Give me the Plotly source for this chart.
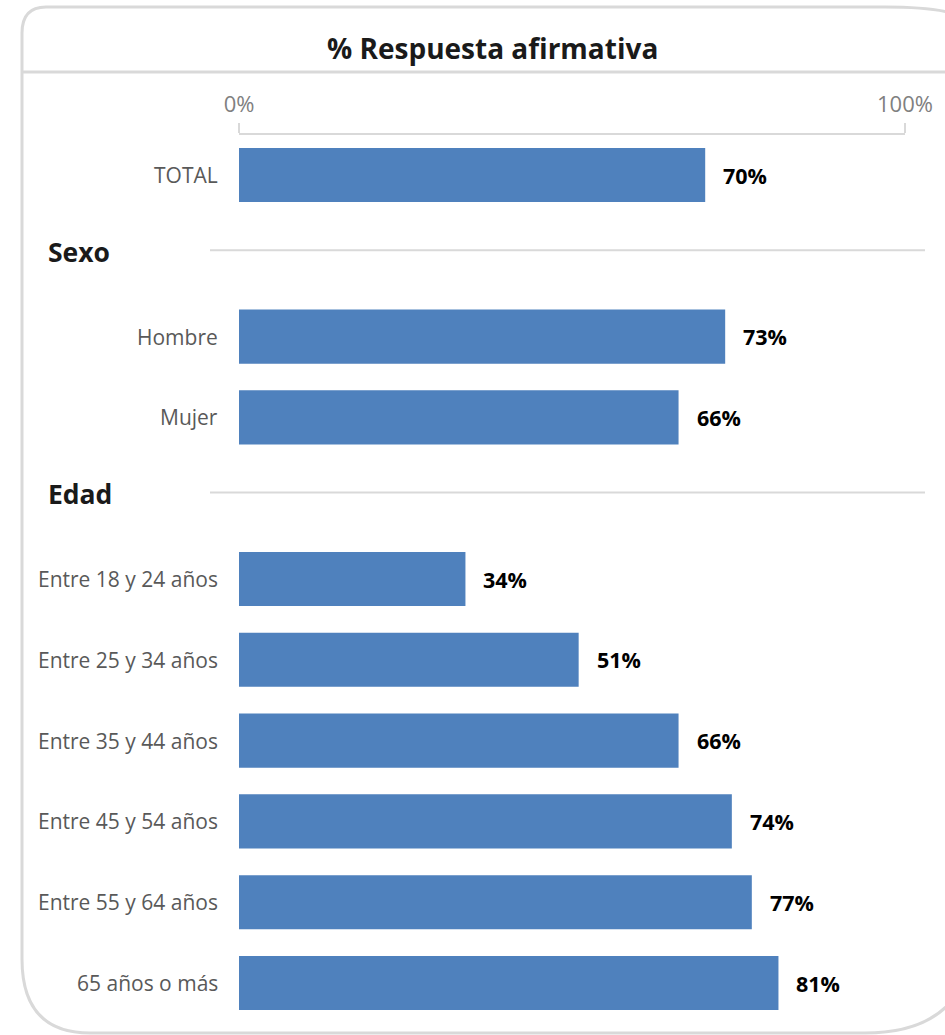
import plotly.graph_objects as go

rows = ["TOTAL", "Sexo", "Hombre", "Mujer", "Edad",
        "Entre 18 y 24 años", "Entre 25 y 34 años", "Entre 35 y 44 años",
        "Entre 45 y 54 años", "Entre 55 y 64 años", "65 años o más"]
headers = ["Sexo", "Edad"]
categories = ["TOTAL", "Hombre", "Mujer",
              "Entre 18 y 24 años", "Entre 25 y 34 años", "Entre 35 y 44 años",
              "Entre 45 y 54 años", "Entre 55 y 64 años", "65 años o más"]
values = [70, 73, 66, 34, 51, 66, 74, 77, 81]
tick_vals = [0, 100]
tick_text = ["0%", "100%"]
title_text = "% Respuesta afirmativa"

W, H = 945, 1035
FONT = "Open Sans"
BAR = "#4f81bd"
GRID = "#d9d9d9"

def px(x):
    return x / W

def py(y):
    return 1 - y / H

fig = go.Figure()
fig.add_trace(go.Bar(
    x=values, y=categories, orientation="h",
    marker=dict(color=BAR, line=dict(width=0)),
    width=0.67, hoverinfo="skip",
))

annotations = []
for c, v in zip(categories, values):
    annotations.append(dict(x=0, y=c, xref="x", yref="y", text=c, showarrow=False,
                            xanchor="right", yanchor="middle", xshift=-19,
                            font=dict(family=FONT, size=21, color="#595959")))
    annotations.append(dict(x=v, y=c, xref="x", yref="y", text=f"<b>{v}%</b>",
                            showarrow=False, xanchor="left", yanchor="middle", xshift=16,
                            font=dict(family=FONT, size=21.5, color="#000000")))

shapes = []
for h in headers:
    idx = rows.index(h)
    annotations.append(dict(x=px(46), y=idx - 0.05, xref="paper", yref="y",
                            text=f"<b>{h}</b>", showarrow=False,
                            xanchor="left", yanchor="middle",
                            font=dict(family=FONT, size=26.5, color="#1a1a1a")))
    shapes.append(dict(type="line", xref="paper", yref="y",
                       x0=px(210), x1=px(925), y0=idx - 0.07, y1=idx - 0.07,
                       line=dict(color=GRID, width=2)))

annotations.append(dict(x=px(492), y=py(48), xref="paper", yref="paper",
                        text=f"<b>{title_text}</b>", showarrow=False,
                        xanchor="center", yanchor="middle",
                        font=dict(family=FONT, size=28, color="#1a1a1a")))

# outer rounded frame (right edge lies beyond the visible area)
L, T, R, B = px(22), py(7), px(975), py(1033)
rtl_x, rtl_y = 24 / W, 26 / H
rbl_x, rbl_y = 68 / W, 74 / H
rtr_x, rtr_y = 90 / W, 25 / H
rbr_x, rbr_y = 110 / W, 110 / H
path = (f"M {L},{T - rtl_y} Q {L},{T} {L + rtl_x},{T} "
        f"L {R - rtr_x},{T} Q {R},{T} {R},{T - rtr_y} "
        f"L {R},{B + rbr_y} Q {R},{B} {R - rbr_x},{B} "
        f"L {L + rbl_x},{B} Q {L},{B} {L},{B + rbl_y} Z")
shapes.append(dict(type="path", xref="paper", yref="paper", path=path,
                   line=dict(color=GRID, width=3), layer="below"))
shapes.append(dict(type="line", xref="paper", yref="paper",
                   x0=px(22), x1=px(960), y0=py(72), y1=py(72),
                   line=dict(color=GRID, width=3)))

fig.update_layout(
    template="none",
    width=W, height=H, autosize=False,
    margin=dict(l=0, r=0, t=0, b=0, pad=0),
    paper_bgcolor="white", plot_bgcolor="white",
    showlegend=False,
    annotations=annotations, shapes=shapes,
    xaxis=dict(domain=[px(239), px(905)], range=[0, 100], side="top",
               showgrid=False, zeroline=False, automargin=False,
               showline=True, linecolor=GRID, linewidth=1.5,
               ticks="outside", ticklen=10, tickcolor=GRID, tickwidth=1.5,
               tickvals=tick_vals, ticktext=tick_text, ticklabelstandoff=2,
               tickfont=dict(family=FONT, size=22, color="#808080"),
               fixedrange=True),
    yaxis=dict(domain=[(H - 1023.4) / H, (H - 134.6) / H],
               type="category", categoryorder="array", categoryarray=rows,
               range=[10.5, -0.5], autorange=False, automargin=False,
               showticklabels=False, showgrid=False, zeroline=False,
               showline=False, ticks="", fixedrange=True),
)

fig.write_html(
    "out.html",
    config={"responsive": False, "displayModeBar": False},
    post_script="document.body.style.margin='0';document.body.style.overflow='hidden';",
)
